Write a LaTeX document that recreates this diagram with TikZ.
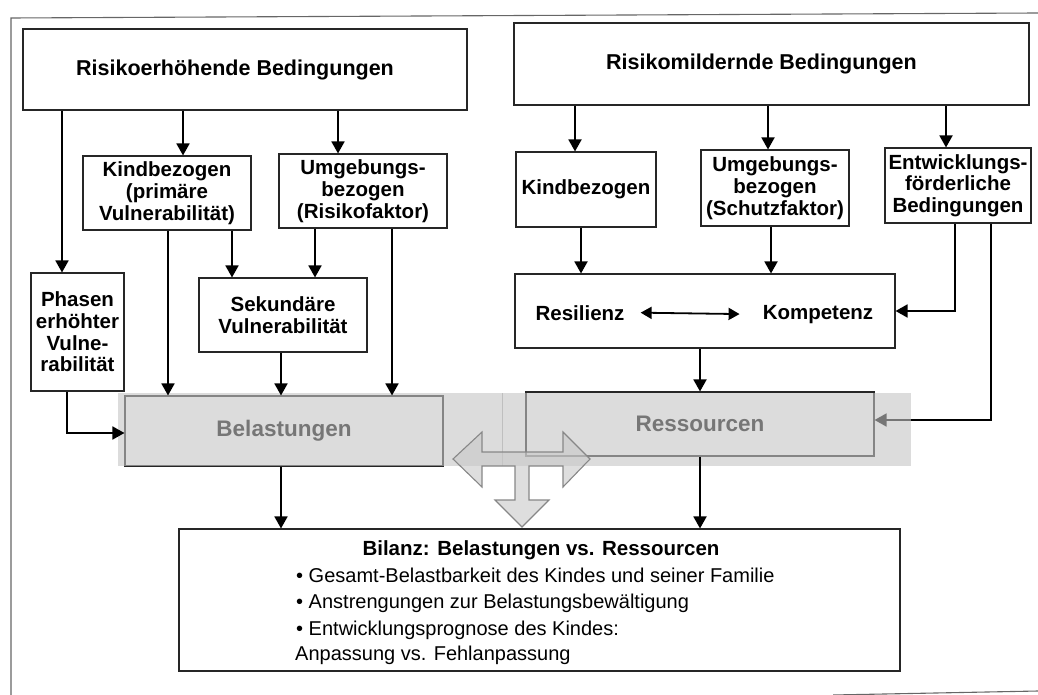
\documentclass[tikz,border=0pt]{standalone}
\usepackage{fontspec}
\setmainfont{Liberation Sans}
\usetikzlibrary{arrows.meta}

\begin{document}
\begin{tikzpicture}[x=1pt,y=-1pt,
  box/.style={draw=black!85, line width=1.1pt, fill=white, align=center,
    inner sep=0pt, font=\fontsize{20.5}{21.7}\selectfont\bfseries},
  headbox/.style={box, font=\fontsize{21.5}{23}\selectfont\bfseries},
  bigbox/.style={box, font=\fontsize{22.5}{24}\selectfont\bfseries},
  lbl/.style={inner sep=0pt, font=\fontsize{20.5}{21.7}\selectfont\bfseries},
  body/.style={inner sep=0pt, anchor=base west, font=\fontsize{20}{24}\selectfont},
  arr/.style={line width=1.8pt, -{Triangle[width=13pt,length=12pt]}},
  dblarr/.style={line width=1.8pt, {Triangle[width=12pt,length=11pt]}-{Triangle[width=12pt,length=11pt]}},
  band/.style={fill={rgb,255:red,197;green,197;blue,197}, fill opacity=0.6, draw=none},
  cross/.style={fill={rgb,255:red,200;green,200;blue,200}, fill opacity=0.6,
    draw={rgb,255:red,135;green,135;blue,135}, line width=1.1pt, line join=miter},
  frame/.style={draw=black!60, line width=1.1pt}
]
\useasboundingbox (0,0) rectangle (1038,695);
\clip (0,0) rectangle (1038,695);

% page frame
\draw[frame] (11,712) -- (11,18) -- (1038,13);
\draw[frame] (833,695) -- (1038,691);

% top row (titles sit a little left of centre)
\node[headbox, minimum width=444pt, minimum height=81pt] (risk) at (245,69.5) {Risikoerhöhende Bedingungen\hspace*{20pt}};
\node[headbox, minimum width=515pt, minimum height=82pt] (mild) at (771.5,64) {Risikomildernde Bedingungen\hspace*{20pt}};

% risk-raising side
\node[box, minimum width=168pt, minimum height=74pt] (kindL) at (167,193) {Kindbezogen\\(primäre\\Vulnerabilität)};
\node[box, minimum width=168pt, minimum height=74pt] (umgL) at (363,191) {Umgebungs-\\bezogen\\(Risikofaktor)};
\node[box, minimum width=93pt, minimum height=118pt] (phasen) at (77.5,332) {Phasen\\erhöhter\\Vulne-\\rabilität};
\node[box, minimum width=168pt, minimum height=74pt] (sek) at (283,315) {Sekundäre\\Vulnerabilität};

% risk-reducing side
\node[box, minimum width=140pt, minimum height=75pt] (kindR) at (586,189.5) {Kindbezogen};
\node[box, minimum width=148pt, minimum height=76pt] (umgR) at (775,188) {Umgebungs-\\bezogen\\(Schutzfaktor)};
\node[box, minimum width=146pt, minimum height=75pt] (entw) at (958,185.5) {Entwicklungs-\\förderliche\\Bedingungen};
\node[box, minimum width=380pt, minimum height=74pt] (resk) at (705,311) {};
\node[lbl, anchor=base] (res) at (580,320) {Resilienz};
\node[lbl, anchor=base] (komp) at (818,319) {Kompetenz};

% burdens and resources
\node[bigbox, minimum width=318pt, minimum height=70pt] (belast) at (284,431) {Belastungen};
\node[bigbox, minimum width=348pt, minimum height=64pt] (ress) at (700,424) {Ressourcen};

% resources input from the right (runs under the shaded band)
\draw[arr] (991,0 |- entw.south) |- ([yshift=4pt]ress.east);

% shaded band over the middle row
\fill[band] (118,393) rectangle (911,466);
\draw[black!25, line width=0.6pt] (502,393) -- (502,466);

% balance box
\node[box, minimum width=721pt, minimum height=142pt] (bilanz) at (539.5,600) {};
\node[lbl, anchor=base] (btitle) at (541,555) {Bilanz: Belastungen vs. Ressourcen};
\node[body] (b1) at (296,582) {• Gesamt-Belastbarkeit des Kindes und seiner Familie};
\node[body] (b2) at (296,608) {• Anstrengungen zur Belastungsbewältigung};
\node[body] (b3) at (296,635) {• Entwicklungsprognose des Kindes:};
\node[body] (b4) at (295,660) {Anpassung vs. Fehlanpassung};

% three-way exchange arrow
\draw[cross] (453,459) -- (482,432) -- (482,452) -- (563,452) -- (563,432)
  -- (590,459) -- (563,487) -- (563,466) -- (529,466) -- (529,500)
  -- (549,500) -- (522,527) -- (495,500) -- (515,500) -- (515,466)
  -- (482,466) -- (482,487) -- cycle;

% connectors, left side
\draw[arr] (62,0 |- risk.south) -- (62,0 |- phasen.north);
\draw[arr] (183,0 |- risk.south) -- (183,0 |- kindL.north);
\draw[arr] (338,0 |- risk.south) -- (338,0 |- umgL.north);
\draw[arr] (168,0 |- kindL.south) -- (168,0 |- belast.north);
\draw[arr] (232,0 |- kindL.south) -- (232,0 |- sek.north);
\draw[arr] (315,0 |- umgL.south) -- (315,0 |- sek.north);
\draw[arr] (392,0 |- umgL.south) -- (392,0 |- belast.north);
\draw[arr] (281,0 |- sek.south) -- (281,0 |- belast.north);
\draw[arr] (67,0 |- phasen.south) |- ([yshift=-2pt]belast.west);
\draw[arr] (281,0 |- belast.south) -- (281,0 |- bilanz.north);

% connectors, right side
\draw[arr] (575,0 |- mild.south) -- (575,0 |- kindR.north);
\draw[arr] (768,0 |- mild.south) -- (768,0 |- umgR.north);
\draw[arr] (946,0 |- mild.south) -- (946,0 |- entw.north);
\draw[arr] (581,0 |- kindR.south) -- (581,0 |- resk.north);
\draw[arr] (771,0 |- umgR.south) -- (771,0 |- resk.north);
\draw[arr] (955,0 |- entw.south) |- (resk.east);
\draw[dblarr] ([xshift=16pt]res.east) -- ([xshift=-23pt]komp.west);
\draw[arr] (700,0 |- resk.south) -- (700,0 |- ress.north);
\draw[arr] (700,0 |- ress.south) -- (700,0 |- bilanz.north);
\end{tikzpicture}
\end{document}
